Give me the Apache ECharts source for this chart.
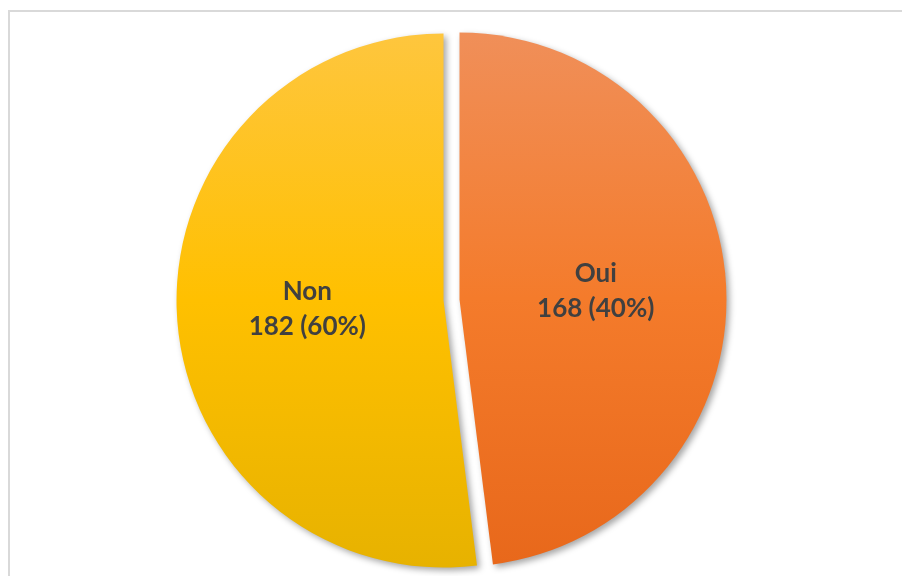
<!DOCTYPE html>
<html>
<head>
<meta charset="utf-8">
<script src="https://cdn.jsdelivr.net/npm/echarts@6/dist/echarts.min.js"></script>
<style>
  html, body { margin: 0; padding: 0; background: #ffffff; }
  #chart { width: 902px; height: 576px; }
</style>
</head>
<body>
<div id="chart"></div>
<script>
// Survey answers
const categories = ['Oui', 'Non'];
const counts = [168, 182];
const percentLabels = ['40%', '60%'];

// Gradient stops (top, middle, bottom) for each slice
const sliceColors = [
  ['#F08F59', '#F47B2B', '#E8681B'],
  ['#FEC63E', '#FFC000', '#E7B200']
];

const chart = echarts.init(document.getElementById('chart'), null, { renderer: 'canvas' });

const data = categories.map((name, i) => ({
  name: name,
  value: counts[i],
  selected: true,
  itemStyle: {
    color: new echarts.graphic.LinearGradient(0, 0, 0, 1, [
      { offset: 0, color: sliceColors[i][0] },
      { offset: 0.5, color: sliceColors[i][1] },
      { offset: 1, color: sliceColors[i][2] }
    ])
  }
}));

chart.setOption({
  animation: false,
  backgroundColor: '#ffffff',
  graphic: [{
    type: 'rect',
    shape: { x: 9, y: 11, width: 900, height: 570 },
    style: { fill: 'none', stroke: '#D9D9D9', lineWidth: 2 },
    silent: true
  }],
  series: [{
    type: 'pie',
    center: [451.5, 300],
    radius: 267,
    startAngle: 90,
    clockwise: true,
    selectedMode: 'multiple',
    selectedOffset: 8,
    avoidLabelOverlap: false,
    itemStyle: {
      borderWidth: 0,
      shadowColor: 'rgba(0,0,0,0.35)',
      shadowBlur: 6,
      shadowOffsetX: 3,
      shadowOffsetY: 3
    },
    label: {
      show: true,
      position: 'inside',
      formatter: p => p.name + '\n' + p.value + ' (' + percentLabels[p.dataIndex] + ')',
      color: '#404040',
      fontFamily: 'Lato',
      fontWeight: 'bold',
      fontSize: 26,
      lineHeight: 35,
      align: 'center'
    },
    labelLine: { show: false },
    emphasis: { disabled: true },
    data: data
  }]
});
</script>
</body>
</html>
